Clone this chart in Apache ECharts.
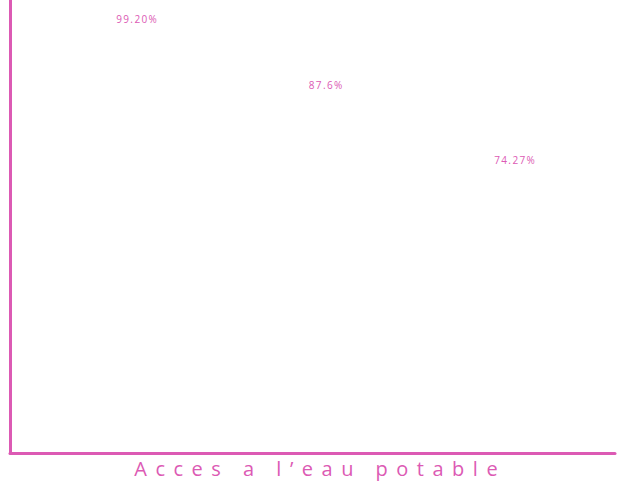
<!DOCTYPE html>
<html>
<head>
<meta charset="utf-8">
<script src="https://cdn.jsdelivr.net/npm/echarts@6/dist/echarts.min.js"></script>
<style>
  html, body { margin: 0; padding: 0; background: #fff; }
  #chart { width: 632px; height: 486px; }
</style>
</head>
<body>
<div id="chart"></div>
<script>
// data
const categories = ['A', 'B', 'C'];
const values = [99.2, 87.6, 74.27];
const valueLabels = ['99.20%', '87.6%', '74.27%'];
const titleText = 'Acces a l\u2019eau potable';

const pink = '#dc5ab4';

const chart = echarts.init(document.getElementById('chart'), null, { renderer: 'svg' });

const option = {
  animation: false,
  backgroundColor: '#fff',
  title: {
    text: titleText,
    left: 'center',
    top: 453,
    textStyle: { color: pink, fontFamily: 'Open Sans', fontSize: 20, fontWeight: 'normal' }
  },
  grid: [
    // frame with the two axis lines
    { left: 10, right: 17, top: 0, bottom: 33 },
    // grid that holds the (invisible) bars and their labels
    { left: 42, right: 23, top: 0, bottom: 33 }
  ],
  xAxis: [
    {
      gridIndex: 0, type: 'category', data: categories,
      axisLine: { lineStyle: { color: pink, width: 3 } },
      axisTick: { show: false }, axisLabel: { show: false }
    },
    {
      gridIndex: 1, type: 'category', data: categories,
      axisLine: { show: false }, axisTick: { show: false }, axisLabel: { show: false }
    }
  ],
  yAxis: [
    {
      gridIndex: 0, type: 'value', min: 0, max: 1,
      axisLine: { show: true, lineStyle: { color: pink, width: 3 } },
      axisTick: { show: false }, axisLabel: { show: false }, splitLine: { show: false }
    },
    {
      gridIndex: 1, type: 'value', min: 24, max: 104,
      axisLine: { show: false }, axisTick: { show: false }, axisLabel: { show: false }, splitLine: { show: false }
    }
  ],
  series: [{
    type: 'bar',
    xAxisIndex: 1,
    yAxisIndex: 1,
    data: values,
    barWidth: '60%',
    itemStyle: { color: 'rgba(0,0,0,0)' },
    label: {
      show: true,
      position: 'top',
      distance: 3,
      color: pink,
      fontFamily: 'Open Sans',
      fontSize: 10,
      formatter: p => valueLabels[p.dataIndex]
    }
  }]
};

chart.setOption(option);

// letter spacing for the texts (not an echarts text option)
function spaceLetters() {
  document.querySelectorAll('#chart svg text').forEach(t => {
    if (t.textContent === titleText) {
      t.setAttribute('letter-spacing', '8.5px');
      t.setAttribute('dx', '4.2');
    } else if (valueLabels.includes(t.textContent)) {
      t.setAttribute('letter-spacing', '1.4px');
      t.setAttribute('dx', '0.7');
    }
  });
}
chart.on('finished', spaceLetters);
spaceLetters();
</script>
</body>
</html>
